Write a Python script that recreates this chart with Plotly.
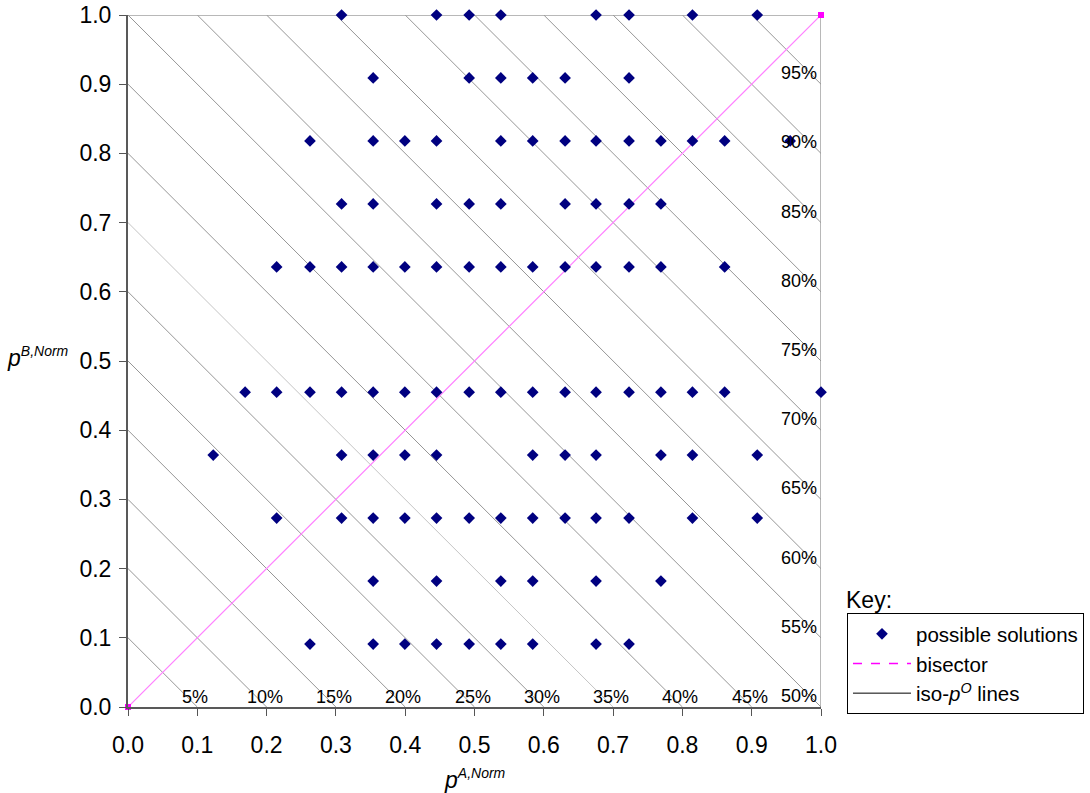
import plotly.graph_objects as go

# ---- data ----
# x positions (p^A,Norm) of the solution grid columns
X_GRID = [0.123, 0.169, 0.2145, 0.2626, 0.3082, 0.3538, 0.3995, 0.4452, 0.4923, 0.538,
          0.584, 0.6307, 0.6754, 0.723, 0.769, 0.8145, 0.861, 0.908, 0.9555, 1.0]

# each row: y value (p^B,Norm) and the grid columns that hold a solution
ROW_Y = [1.0, 0.909, 0.818, 0.727, 0.636, 0.455, 0.364, 0.273, 0.182, 0.091]
ROW_1000 = [4, 7, 8, 9, 12, 13, 15, 17]
ROW_0909 = [5, 8, 9, 10, 11, 13]
ROW_0818 = [3, 5, 6, 7, 9, 10, 11, 12, 13, 14, 15, 16, 18]
ROW_0727 = [4, 5, 7, 8, 9, 11, 12, 13, 14]
ROW_0636 = [2, 3, 4, 5, 6, 7, 8, 9, 10, 11, 12, 13, 14, 16]
ROW_0455 = [1, 2, 3, 4, 5, 6, 7, 8, 9, 10, 11, 12, 13, 14, 15, 16, 19]
ROW_0364 = [0, 4, 5, 6, 7, 10, 11, 12, 14, 15, 17]
ROW_0273 = [2, 4, 5, 6, 7, 8, 9, 10, 11, 12, 13, 15, 17]
ROW_0182 = [5, 7, 9, 10, 12, 14]
ROW_0091 = [3, 5, 6, 7, 8, 9, 10, 12, 13]
ROWS = [ROW_1000, ROW_0909, ROW_0818, ROW_0727, ROW_0636,
        ROW_0455, ROW_0364, ROW_0273, ROW_0182, ROW_0091]

# iso-p^O lines: x + y = ISO_SUM, labelled with p^O = ISO_SUM / 2
ISO_SUM = [0.1, 0.2, 0.3, 0.4, 0.5, 0.6, 0.7, 0.8, 0.9, 1.0,
           1.1, 1.2, 1.3, 1.4, 1.5, 1.6, 1.7, 1.8, 1.9]
ISO_LABELS = ["5%", "10%", "15%", "20%", "25%", "30%", "35%", "40%", "45%", "50%",
              "55%", "60%", "65%", "70%", "75%", "80%", "85%", "90%", "95%"]

BISECTOR_X = [0.0, 1.0]
BISECTOR_Y = [0.0, 1.0]

TICKS = [0.0, 0.1, 0.2, 0.3, 0.4, 0.5, 0.6, 0.7, 0.8, 0.9, 1.0]
TICK_TEXT = ["0.0", "0.1", "0.2", "0.3", "0.4", "0.5", "0.6", "0.7", "0.8", "0.9", "1.0"]

FONT = "Liberation Sans, Arial, sans-serif"

fig = go.Figure()

# iso lines
for s in ISO_SUM:
    if s <= 1.0:
        xs, ys = [0.0, s], [s, 0.0]
    else:
        xs, ys = [s - 1.0, 1.0], [1.0, s - 1.0]
    col = "#c4c4c4" if abs(s - 0.7) < 1e-9 else "#969696"
    fig.add_trace(go.Scatter(x=xs, y=ys, mode="lines",
                             line=dict(color=col, width=1),
                             showlegend=False, hoverinfo="skip"))

# bisector
fig.add_trace(go.Scatter(x=BISECTOR_X, y=BISECTOR_Y, mode="lines+markers",
                         line=dict(color="#ff80ff", width=1.2),
                         marker=dict(symbol="square", size=6, color="#ff00ff"),
                         showlegend=False, cliponaxis=False))

# solutions
px, py = [], []
for yv, cols in zip(ROW_Y, ROWS):
    for c in cols:
        px.append(X_GRID[c])
        py.append(yv)
fig.add_trace(go.Scatter(x=px, y=py, mode="markers", name="possible solutions",
                         marker=dict(symbol="diamond", size=9, color="#000080"),
                         cliponaxis=False, legendrank=1))

# legend-only samples
fig.add_trace(go.Scatter(x=[None], y=[None], mode="lines", name="bisector",
                         line=dict(color="#ff00ff", width=1.5, dash="dash"),
                         legendrank=2))
fig.add_trace(go.Scatter(x=[None], y=[None], mode="lines",
                         name="iso-<i>p</i><sup><i>O</i></sup> lines",
                         line=dict(color="#000000", width=1), legendrank=3))

annotations = []
for s, lab in zip(ISO_SUM, ISO_LABELS):
    if s < 1.0 - 1e-9:
        annotations.append(dict(x=s, y=0.0, xref="x", yref="y", text=lab,
                                showarrow=False, xanchor="center", yanchor="middle",
                                xshift=-2, yshift=10,
                                font=dict(family=FONT, size=18, color="black")))
    else:
        annotations.append(dict(x=1.0, y=s - 1.0, xref="x", yref="y", text=lab,
                                showarrow=False, xanchor="right", yanchor="middle",
                                xshift=-2, yshift=11,
                                font=dict(family=FONT, size=18, color="black")))

SUP_STYLE = "font-size:14px"
annotations.append(dict(x=0.0, y=0.5, xref="paper", yref="paper",
                        text="<i>p</i><sup><span style='" + SUP_STYLE + "'><i>B,Norm</i></span></sup>",
                        showarrow=False,
                        xanchor="right", yanchor="middle", xshift=-57, yshift=4,
                        font=dict(family=FONT, size=23, color="black")))
annotations.append(dict(x=0.5, y=0.0, xref="paper", yref="paper",
                        text="<i>p</i><sup><span style='" + SUP_STYLE + "'><i>A,Norm</i></span></sup>",
                        showarrow=False,
                        xanchor="center", yanchor="top", xshift=0, yshift=-56,
                        font=dict(family=FONT, size=23, color="black")))
annotations.append(dict(x=1.0, y=0.0, xref="paper", yref="paper",
                        text="Key:", showarrow=False, xanchor="left", yanchor="middle",
                        xshift=23, yshift=107,
                        font=dict(family=FONT, size=23, color="black")))

shapes = [
    dict(type="line", xref="x", yref="y", x0=0, y0=1, x1=1, y1=1,
         line=dict(color="#a0a0a0", width=1.5), layer="below"),
    dict(type="line", xref="x", yref="y", x0=1, y0=0, x1=1, y1=1,
         line=dict(color="#a0a0a0", width=1.5), layer="below"),
]

axis_common = dict(range=[0, 1], tickvals=TICKS, ticktext=TICK_TEXT,
                   ticks="outside", ticklen=7, tickwidth=1, tickcolor="#555555",
                   showline=True, linecolor="#595959", linewidth=2,
                   showgrid=False, zeroline=False, automargin=False,
                   ticklabeloverflow="allow",
                   tickfont=dict(family=FONT, size=23, color="black"))

fig.update_layout(
    width=1090, height=793,
    margin=dict(l=128, r=269, t=15, b=86, autoexpand=False),
    plot_bgcolor="white", paper_bgcolor="white",
    font=dict(family=FONT, color="black"),
    xaxis=dict(**axis_common, ticklabelstandoff=9),
    yaxis=dict(**axis_common, ticklabelstandoff=3),
    showlegend=True,
    legend=dict(x=1.0375, y=0.1358, xanchor="left", yanchor="top",
                bordercolor="black", borderwidth=1, bgcolor="white",
                font=dict(family=FONT, size=20.5, color="black"),
                itemwidth=58, tracegroupgap=0,
                entrywidth=176, entrywidthmode="pixels"),
    annotations=annotations,
    shapes=shapes,
)

# remove the default page margin so the figure sits at the window's top-left corner
fig.write_html("out.html", config={"displayModeBar": False},
               post_script="document.body.style.margin='0px';")
